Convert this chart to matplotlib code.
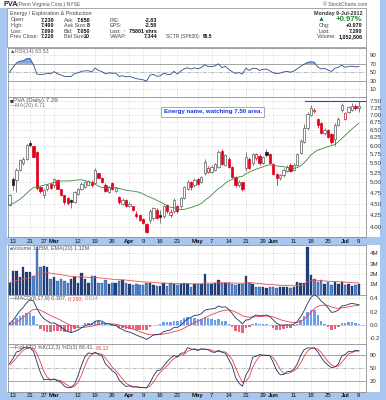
import numpy as np
import pandas as pd
import matplotlib
matplotlib.use('Agg')
import matplotlib.pyplot as plt
from matplotlib.patches import Rectangle
from matplotlib.ticker import NullLocator, FixedLocator, FixedFormatter

# ---------------- data ----------------
opens = [4.48,5.09,5.06,5.32,5.52,5.63,6.08,5.98,5.82,4.88,4.70,4.84,4.97,4.93,5.05,4.83,4.69,4.63,4.58,4.54,
         4.73,4.84,4.89,4.95,5.02,4.99,5.23,5.12,4.95,4.77,4.99,4.79,4.65,4.50,4.58,4.45,4.44,4.28,4.26,4.17,
         4.06,4.16,4.19,4.36,4.25,4.23,4.47,4.26,4.33,4.44,4.44,4.62,4.85,5.00,4.93,5.08,5.01,5.23,5.27,5.27,
         5.32,5.40,5.84,5.45,5.63,5.40,5.14,4.95,5.00,5.36,5.63,5.50,5.65,5.70,5.50,5.82,5.76,5.49,5.22,5.10,
         5.18,5.28,5.45,5.32,5.45,5.78,6.12,6.55,7.00,7.12,6.85,6.72,6.38,6.50,6.35,6.20,6.66,7.15,6.85,7.10,
         7.17,7.30,7.23]
highs = [4.72,5.15,5.36,5.62,5.68,6.05,6.16,6.00,5.85,4.92,4.86,4.97,4.99,5.12,5.08,4.85,4.71,4.66,4.60,4.79,
         4.86,5.00,5.04,5.06,5.05,5.38,5.25,5.15,4.98,4.92,5.02,4.90,4.68,4.62,4.60,4.53,4.46,4.33,4.28,4.19,
         4.08,4.38,4.42,4.40,4.36,4.47,4.50,4.38,4.62,4.47,4.66,4.92,5.05,5.04,5.10,5.10,5.17,5.63,5.42,5.44,
         5.52,5.86,5.90,5.75,5.66,5.42,5.16,5.06,5.02,5.82,5.66,5.80,5.80,5.76,5.70,5.90,5.78,5.52,5.25,5.22,
         5.36,5.44,5.50,5.52,5.80,6.20,6.68,7.08,7.33,7.25,6.88,6.75,6.55,6.52,6.38,6.70,6.92,7.40,7.10,7.32,
         7.42,7.36,7.49]
lows = [4.46,4.81,4.77,5.28,5.46,5.60,5.95,5.66,4.82,4.74,4.64,4.80,4.84,4.90,4.83,4.68,4.50,4.48,4.40,4.52,
        4.70,4.82,4.87,4.93,4.90,4.97,5.10,4.98,4.76,4.74,4.81,4.76,4.50,4.47,4.42,4.42,4.33,4.19,4.13,4.06,
        3.90,4.10,4.15,4.17,4.09,4.20,4.30,4.22,4.30,4.30,4.41,4.60,4.82,4.82,4.90,4.95,4.98,5.20,5.25,5.24,
        5.30,5.38,5.45,5.42,5.37,5.10,4.90,4.88,4.80,5.30,5.35,5.45,5.60,5.46,5.48,5.68,5.47,5.18,4.95,5.05,
        5.15,5.27,5.26,5.28,5.42,5.75,6.08,6.50,6.95,7.05,6.55,6.35,6.32,6.22,6.05,5.98,6.62,7.10,6.80,7.05,
        7.12,7.15,7.09]
closes = [4.69,4.95,5.32,5.58,5.63,6.01,6.03,5.68,4.86,4.80,4.82,4.93,4.86,5.08,4.85,4.71,4.54,4.51,4.53,4.77,
          4.83,4.97,5.01,5.03,4.93,5.32,5.12,5.01,4.79,4.89,4.84,4.86,4.53,4.58,4.45,4.50,4.36,4.24,4.16,4.09,
          3.92,4.33,4.40,4.20,4.22,4.44,4.33,4.32,4.58,4.33,4.62,4.89,5.01,4.90,5.06,4.97,5.14,5.54,5.38,5.40,
          5.49,5.82,5.49,5.72,5.40,5.14,4.93,5.02,4.84,5.68,5.38,5.77,5.76,5.50,5.67,5.72,5.50,5.22,5.10,5.18,
          5.32,5.40,5.30,5.45,5.75,6.15,6.55,7.02,7.22,7.17,6.65,6.40,6.50,6.28,6.10,6.65,6.86,7.33,7.05,7.27,
          7.31,7.22,7.29]
# closes of the sessions before the first bar (needed by MA / indicators)
prior_closes = [4.50,4.44,4.49,4.43,4.50,4.44,4.51,4.45,4.50,4.44,4.49,4.43,4.50,4.44,4.51,4.45,4.50,4.46,4.47]
volume_m = [1.15,2.28,2.28,1.73,2.64,2.15,2.15,1.83,4.60,2.64,2.77,2.70,1.47,1.73,1.34,1.47,1.34,1.09,1.47,1.67,
            1.09,2.12,1.47,1.15,1.80,1.80,1.15,1.15,1.41,1.02,1.15,1.09,1.34,1.41,1.09,1.02,0.92,1.02,0.92,0.92,
            1.09,1.09,0.92,0.83,0.83,1.15,0.83,1.09,1.02,0.92,1.02,1.09,1.02,0.76,1.02,1.02,1.02,1.99,1.02,1.02,
            1.15,1.41,1.15,1.15,1.09,1.02,0.92,1.02,1.02,1.80,1.09,1.02,0.76,0.70,0.70,0.63,0.76,0.76,0.63,0.70,
            0.76,0.70,0.63,0.76,1.24,1.09,1.15,4.60,1.85,1.50,1.25,1.40,1.00,1.20,0.95,1.20,1.00,1.20,0.90,1.00,
            0.80,0.95,1.05]
tick_idx = [1, 6, 10, 13, 20, 25, 30, 35, 39, 44, 49, 55, 59, 64, 69, 74, 77, 83, 88, 93, 98, 102]
tick_lab = ['13', '21', '27', 'Mar', '12', '19', '26', 'Apr', '9', '16', '23', 'May', '7', '14', '21', '29',
            'Jun', '11', '18', '25', 'Jul', '9']
price_ticks = [4.00, 4.25, 4.50, 4.75, 5.00, 5.25, 5.50, 5.75, 6.00, 6.25, 6.50, 6.75, 7.00, 7.25, 7.50]
months = {'Mar', 'Apr', 'May', 'Jun', 'Jul'}

n = len(closes)
assert len(opens) == n == len(highs) == len(lows) == len(volume_m) == 103

# ---------------- derived indicators ----------------
npre = len(prior_closes)
allc = pd.Series(prior_closes + closes)
ma20 = allc.rolling(20).mean().values[npre:]
d = allc.diff()
up = d.clip(lower=0).ewm(alpha=1/14, adjust=False).mean()
dn = (-d.clip(upper=0)).ewm(alpha=1/14, adjust=False).mean()
rsi = (100 - 100 / (1 + up / dn)).values[npre:]
macd_s = allc.ewm(span=8, adjust=False).mean() - allc.ewm(span=17, adjust=False).mean()
sig_s = macd_s.ewm(span=9, adjust=False).mean()
macd = macd_s.values[npre:]
sig = sig_s.values[npre:]
hist = macd - sig
allh = pd.Series(prior_closes + highs)
alll = pd.Series(prior_closes + lows)
hh = allh.rolling(12).max()
ll = alll.rolling(12).min()
fastk = 100 * (allc - ll) / (hh - ll)
fullk_s = fastk.rolling(3).mean()
fulld_s = fullk_s.rolling(3).mean()
fullk = fullk_s.values[npre:]
fulld = fulld_s.values[npre:]
vol = np.array(volume_m) * 1e6
vema = pd.Series(vol).ewm(span=20, adjust=False).mean().values
prev_c = [prior_closes[-1]] + closes[:-1]
x = np.arange(n)

# ---------------- figure ----------------
W, H = 386, 400
plt.rcParams['font.family'] = ['Liberation Sans', 'DejaVu Sans']
fig = plt.figure(figsize=(W / 100, H / 100), dpi=100)
fig.patch.set_facecolor('white')
BLUE = '#a7c7f0'
GRID = '#c9c9c9'
TXT = '#333333'
FS = 4.4
FSI = 3.9


def fx(px):
    return px / W


def fy(py):
    return 1 - py / H


def band(x0, y0, x1, y1, color, z=0, ec='none', lw=0):
    fig.add_artist(Rectangle((fx(x0), fy(y1)), (x1 - x0) / W, (y1 - y0) / H, transform=fig.transFigure,
                             facecolor=color, edgecolor=ec, lw=lw, zorder=z))


band(0, 8, 7, 400, BLUE)
band(380, 0, 386, 400, BLUE)
band(0, 237.3, 386, 245, BLUE)
band(0, 391.5, 386, 400, BLUE)
band(7, 8, 366, 46.5, 'white', z=1, ec='#9a9a9a', lw=0.6)

XL, XR = 7.5, 366


def add_ax(y0, y1):
    ax = fig.add_axes([XL / W, 1 - y1 / H, (XR - XL) / W, (y1 - y0) / H])
    ax.set_facecolor('white')
    for s in ax.spines.values():
        s.set_color('#8f8f8f')
        s.set_linewidth(0.6)
    ax.set_xlim(-0.6, (XR - 9) / 3.43)
    ax.set_xticks(tick_idx)
    ax.tick_params(axis='x', length=0, labelbottom=False)
    ax.yaxis.tick_right()
    ax.tick_params(axis='y', length=0, pad=2.5, labelsize=FS, labelcolor=TXT)
    ax.grid(True, color=GRID, lw=0.5, ls=(0, (1, 1.5)))
    ax.set_axisbelow(True)
    return ax


def date_labels(ax):
    ax.tick_params(axis='x', labelbottom=True, pad=1.2, labelsize=FS, labelcolor='#111111')
    ax.set_xticklabels(tick_lab)
    for t in ax.get_xticklabels():
        if t.get_text() in months:
            t.set_fontweight('bold')


r = fig.canvas.get_renderer()


def multitext(px, py, parts, size=FS, gap=0.0, weights=None):
    for k, (s, c) in enumerate(parts):
        fw = weights[k] if weights else 'normal'
        t = fig.text(fx(px), fy(py), s, color=c, fontsize=size, va='center', ha='left', zorder=6,
                     fontweight=fw)
        px += t.get_window_extent(r).width + gap


# ---- RSI ----
ax_rsi = add_ax(47.5, 96.7)
ax_rsi.set_ylim(-7.4, 108.4)
ax_rsi.set_yticks([10, 30, 50, 70, 90])
ax_rsi.axhline(70, color='#999999', lw=0.6)
ax_rsi.axhline(30, color='#999999', lw=0.6)
ax_rsi.axhline(50, color='#bbbbbb', lw=0.7, ls=(0, (4, 1.5, 1, 1.5)))
ax_rsi.fill_between(x, 70, rsi, where=rsi > 70, color='#7ea7e6', interpolate=True, lw=0)
ax_rsi.fill_between(x, 30, rsi, where=rsi < 30, color='#7ea7e6', interpolate=True, lw=0)
ax_rsi.plot(x, rsi, color='#2b4c8c', lw=0.6)
multitext(9.5, 51.5, [('\u25b2', '#2b4c8c'), ('RSI(14) %.2f' % rsi[-1], '#666666')], size=FSI)

# ---- Price ----
ax_p = add_ax(96.7, 237.3)
ax_p.set_yscale('log')
ax_p.set_ylim(3.81, 7.65)
ax_p.yaxis.set_major_locator(FixedLocator(price_ticks))
ax_p.yaxis.set_major_formatter(FixedFormatter(['%.2f' % v for v in price_ticks]))
ax_p.yaxis.set_minor_locator(NullLocator())
for i in range(n):
    o, h, l, c = opens[i], highs[i], lows[i], closes[i]
    up_day = c >= prev_c[i]
    col = '#5a5a5a' if up_day else '#e0001b'
    fill = '#1a1a1a' if up_day else '#e0001b'
    ax_p.vlines(i, l, h, color=col, lw=0.55, zorder=2)
    if c >= o:
        ax_p.add_patch(Rectangle((i - 0.33, o), 0.66, max(c - o, 0.01), facecolor='white', edgecolor=col,
                                 lw=0.5, zorder=3))
    else:
        ax_p.add_patch(Rectangle((i - 0.33, c), 0.66, o - c, facecolor=fill, edgecolor=fill, lw=0.5, zorder=3))
ax_p.plot(x, ma20, color='#3d8a3d', lw=0.6, zorder=4)
ax_p.plot([86.3, 104], [7.5, 7.5], color='#1f3cff', lw=0.8, zorder=4)
multitext(9.5, 100.7, [('\u25a0', '#333333'), ('PVA (Daily) %.2f' % closes[-1], '#555555')], size=FS)
multitext(9.5, 105.5, [('\u2014', '#3d8a3d'), ('MA(20) %.2f' % ma20[-1], '#777777')], size=FSI)
fig.text(fx(163.5), fy(111.7), 'Energy name, watching 7.50 area.', fontsize=FS, color='#1530e0',
         fontweight='bold', va='center', ha='left',
         bbox=dict(boxstyle='square,pad=0.4', facecolor='white', edgecolor='#9a9a9a', lw=0.6), zorder=6)
date_labels(ax_p)

# ---- Volume ----
ax_v = add_ax(245, 294.5)
ax_v.set_ylim(0, 4.8e6)
ax_v.set_yticks([1e6, 2e6, 3e6, 4e6])
ax_v.set_yticklabels(['1M', '2M', '3M', '4M'])
vcols = ['#23407a' if closes[i] >= prev_c[i] else '#4f86cf' for i in range(n)]
ax_v.bar(x, vol, width=0.72, color=vcols, edgecolor='#1b2f5a', lw=0.2, zorder=2)
ax_v.plot(x, vema, color='#e8505a', lw=0.6, zorder=3)
multitext(9.5, 248.5, [('\u25a0', '#4f86cf'),
                       ('Volume %.2fM, EMA(20) %.2fM' % (vol[-1] / 1e6, vema[-1] / 1e6), '#555555')], size=FSI)

# ---- MACD ----
ax_m = add_ax(294.5, 344.3)
ax_m.set_ylim(-0.297, 0.46)
ax_m.set_yticks([-0.2, 0.0, 0.2, 0.4])
ax_m.set_yticklabels(['-0.2', '0.0', '0.2', '0.4'])
ax_m.axhline(0, color='#bbbbbb', lw=0.6, ls=(0, (4, 1.5, 1, 1.5)))
hcols = ['#6e9fe6' if v >= 0 else '#e8657f' for v in hist]
ax_m.bar(x, hist, width=0.72, color=hcols, lw=0, zorder=2)
ax_m.plot(x, sig, color='#e8404e', lw=0.6, zorder=3)
ax_m.plot(x, macd, color='#1e2f66', lw=0.6, zorder=4)
multitext(9.5, 298.5, [('\u2014', '#1e2f66'), ('MACD(8,17,9) %.3f, ' % macd[-1], '#555555'),
                       ('%.3f, ' % sig[-1], '#e8404e'), ('%.3f' % hist[-1], '#6e9fe6')], size=FSI)

# ---- Full STO ----
ax_s = add_ax(344.3, 391.5)
ax_s.set_ylim(-5.4, 103.6)
ax_s.set_yticks([20, 50, 80])
ax_s.axhline(80, color='#999999', lw=0.6)
ax_s.axhline(20, color='#999999', lw=0.6)
ax_s.axhline(50, color='#bbbbbb', lw=0.7, ls=(0, (4, 1.5, 1, 1.5)))
ax_s.plot(x, fulld, color='#e8404e', lw=0.6, zorder=3)
ax_s.plot(x, fullk, color='#1e2f66', lw=0.6, zorder=4)
multitext(9.5, 348, [('\u2014', '#1e2f66'), ('Full STO %%K(12,3) %%D(3) %.2f, ' % fullk[-1], '#555555'),
                     ('%.2f' % fulld[-1], '#e8404e')], size=FSI)
date_labels(ax_s)

# ---------------- header / info box ----------------
fig.text(fx(3), fy(4.3), 'PVA', fontsize=5.2, fontweight='bold', color='#222222', va='center')
fig.text(fx(17), fy(4.5), '(Penn Virginia Corp.) NYSE', fontsize=3.7, color='#555555', va='center')
fig.text(fx(367), fy(4.5), '\u00a9 StockCharts.com', fontsize=3.7, color='#555555', va='center', ha='right')


def lab(px, py, s, **kw):
    kw.setdefault('color', '#444444')
    kw.setdefault('fontsize', FSI)
    fig.text(fx(px), fy(py), s, va='center', zorder=5, **kw)


def val(px, py, s, **kw):
    kw.setdefault('color', '#111111')
    kw.setdefault('fontsize', FSI)
    fig.text(fx(px), fy(py), s, va='center', ha='right', fontweight='bold', zorder=5, **kw)


rows = [20, 25.7, 31.2, 36.7]
lab(10.5, 14, 'Energy / Exploration & Production')
for yy, a, b in zip(rows, ['Open:', 'High:', 'Low:', 'Prev Close:'], ['7.230', '7.490', '7.090', '7.220']):
    lab(10.5, yy, a)
    val(54, yy, b)
for yy, a, b in zip(rows, ['Ask:', 'Ask Size:', 'Bid:', 'Bid Size:'], ['7.650', '8', '7.050', '20']):
    lab(64, yy, a)
    val(90, yy, b)
for yy, a, b in zip(rows, ['P/E:', 'EPS:', 'Last:', 'VWAP:'], ['-2.83', '-2.58', '75801 shrs', '7.344']):
    lab(110, yy, a)
    val(157, yy, b)
lab(122.3, rows[2], '\u2191', color='#1e8a2e', fontweight='bold', fontsize=3.6)
multitext(166, rows[3], [('SCTR (SP600):', '#444444'), ('95.5', '#111111')], size=3.5, gap=2.5,
          weights=['normal', 'bold'])

val(362.5, 14, 'Monday 9-Jul-2012', color='#333333')
lab(318, 19.8, '\u25b2', color='#1e7a2e', fontsize=5)
val(362.5, 19.6, '+0.97%', color='#1e8a2e', fontsize=5.6)
lab(318.5, 25.5, 'Chg:')
val(362.5, 25.5, '+0.070')
lab(318.5, 31.2, 'Last:')
val(362.5, 31.2, '7.290')
lab(316.5, 36.7, 'Volume:')
val(362.5, 36.7, '1,052,806')

fig.savefig('out.png', dpi=100, facecolor=fig.get_facecolor())
